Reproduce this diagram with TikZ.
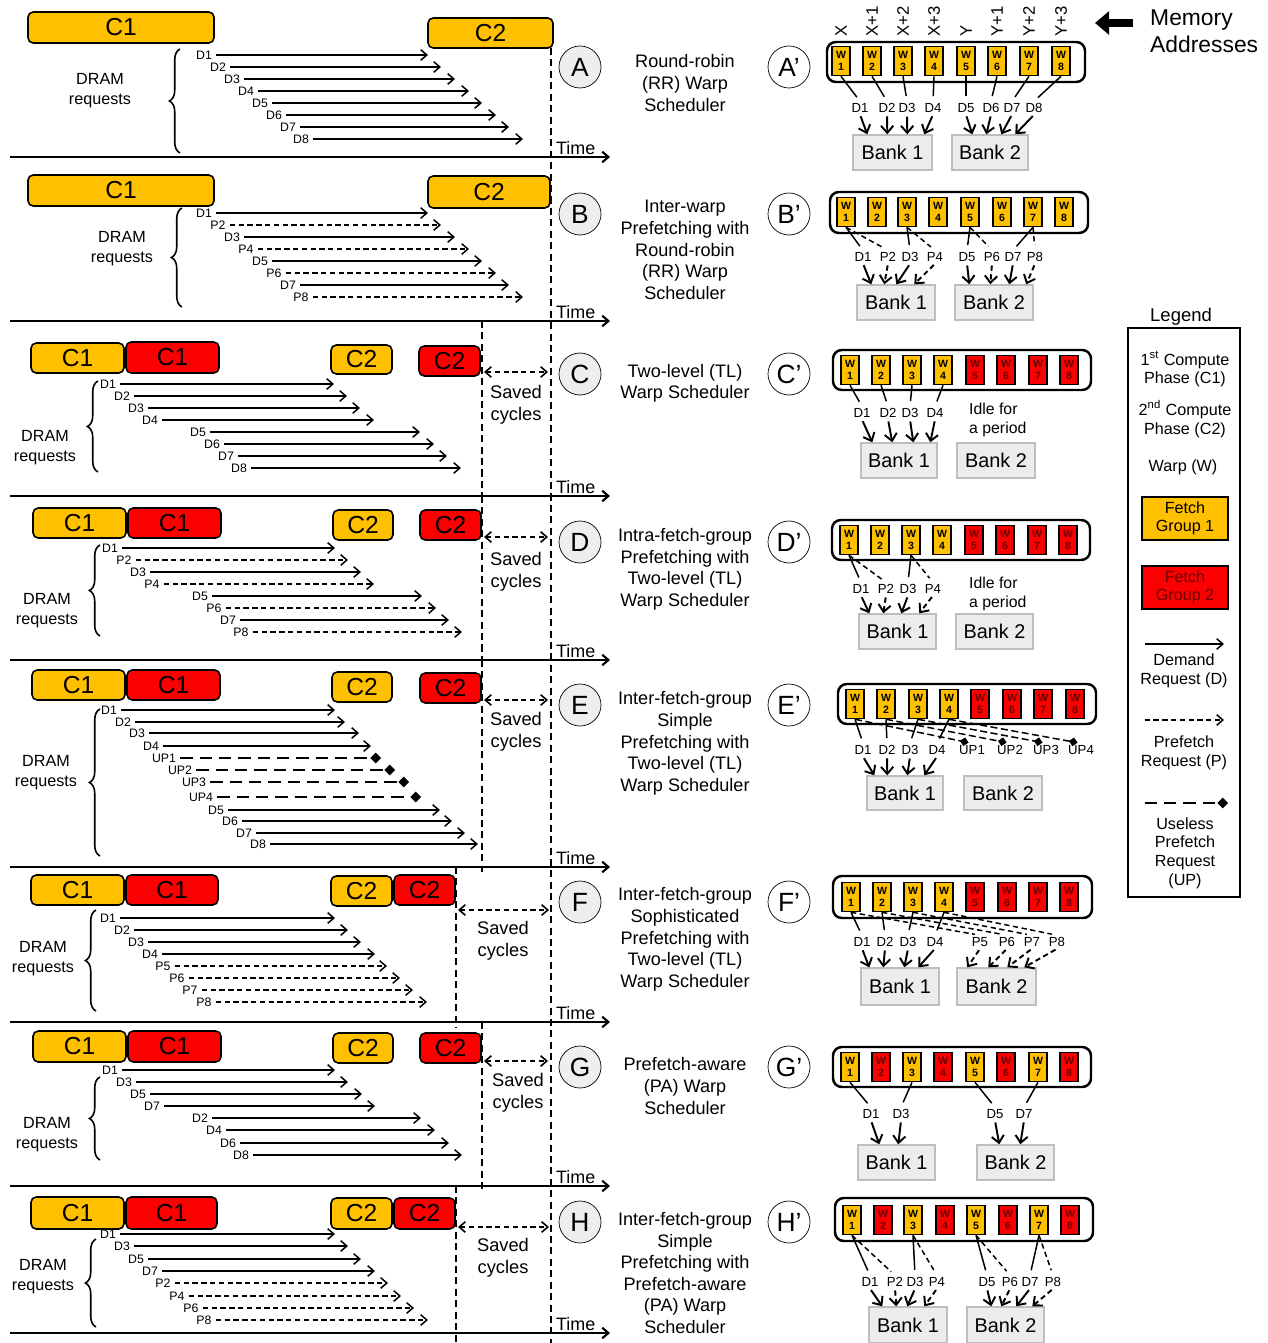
\documentclass[tikz,border=0pt]{standalone}
\usepackage{fontspec}
\setmainfont{Liberation Sans}
\usetikzlibrary{arrows.meta,calc,fit,decorations.pathreplacing,positioning}

\definecolor{fgone}{RGB}{255,192,0}
\definecolor{fgtwo}{RGB}{250,0,0}
\definecolor{fgtwotxt}{RGB}{105,0,0}
\definecolor{bankfill}{RGB}{236,236,236}
\definecolor{bankline}{RGB}{190,190,190}
\definecolor{tagfill}{RGB}{238,238,238}
\newcommand{\setfs}[2]{\fontsize{#1}{#2}\selectfont}
\newcommand{\boxnode}[7]{%
  \pgfmathsetmacro{\boxw}{(#5-#3)*0.02}%
  \pgfmathsetmacro{\boxh}{(#6-#4)*0.02}%
  \node[#1, minimum width=\boxw cm, minimum height=\boxh cm] (#2) at ({(#3+#5)/2},{(#4+#6)/2}) {#7};}

\begin{document}
\begin{tikzpicture}[x=0.2mm, y=-0.2mm,
    >={Straight Barb[length=3.5pt,width=6pt]},
    phase/.style={draw, line width=0.9pt, rounded corners=3pt, inner sep=0pt, font=\setfs{14}{14}},
    phone/.style={phase, fill=fgone},
    phtwo/.style={phase, fill=fgtwo},
    reqlbl/.style={inner sep=0.8pt, font=\setfs{7}{8}},
    dreq/.style={->, line width=0.85pt, shorten <=1.5pt},
    preq/.style={dreq, dash pattern=on 3pt off 2pt},
    upreq/.style={-{Diamond[length=6pt,width=6pt]}, line width=0.85pt, shorten <=1.5pt, dash pattern=on 7pt off 4pt},
    timeaxis/.style={->, line width=1.2pt},
    timelbl/.style={anchor=south west, inner sep=1pt, font=\setfs{10.2}{12}},
    vline/.style={line width=0.9pt, dash pattern=on 4pt off 2.5pt},
    savedarr/.style={<->, line width=0.9pt, dash pattern=on 3pt off 2pt},
    savedtxt/.style={align=center, font=\setfs{10.4}{12.5}},
    dramtxt/.style={align=center, font=\setfs{9.2}{11.3}},
    reqbrace/.style={decorate, decoration={brace, amplitude=6pt}, line width=0.9pt},
    tag/.style={draw, circle, fill=tagfill, minimum size=0.84cm, inner sep=0pt, font=\setfs{15}{15}},
    tagp/.style={tag, fill=white},
    scen/.style={align=center, font=\setfs{10.3}{12.3}},
    wrow/.style={draw, line width=1.4pt, rounded corners=5pt, inner sep=0pt},
    warp/.style={draw, line width=0.9pt, fill=fgone, minimum width=0.36cm, minimum height=0.58cm, inner sep=0pt, align=center, font=\setfs{6}{6.5}\bfseries},
    warpr/.style={warp, fill=fgtwo, text=fgtwotxt},
    addr/.style={rotate=90, anchor=west, inner sep=0pt, font=\setfs{9.5}{10}},
    rlbl/.style={inner sep=1pt, font=\setfs{7.5}{8}},
    wline/.style={line width=0.85pt, shorten >=3pt},
    wpline/.style={wline, dash pattern=on 3pt off 2pt},
    wupline/.style={line width=0.85pt, shorten >=2pt, dash pattern=on 4pt off 2pt, -{Diamond[length=5pt,width=5pt]}},
    barr/.style={-{Straight Barb[length=4pt,width=7pt]}, line width=1.1pt, shorten <=1pt},
    bparr/.style={barr, dash pattern=on 3pt off 2pt},
    bank/.style={draw=bankline, line width=0.8pt, fill=bankfill, inner sep=0pt, font=\setfs{11.3}{12}},
    idle/.style={anchor=west, align=left, font=\setfs{9}{11}},
    legtxt/.style={align=center, font=\setfs{9.2}{10.6}},
    fgbox/.style={draw, line width=1pt, inner sep=0pt, align=center, font=\setfs{9.2}{10.6}}
]
\useasboundingbox (0,0) rectangle (1267,1343);
\fill[white] (0,0) rectangle (1267,1343);

% time axes and the long dashed line
\foreach \y [count=\i] in {157,321,496,660,867,1022,1186,1333}{
  \coordinate (tl\i) at (10,\y);
  \coordinate (tr\i) at (610,\y);
  \draw[timeaxis] (tl\i) -- (tr\i);
  \node[timelbl] (tt\i) at (554,\y) {Time};
}
\draw[vline] (551,48) -- (551,1343);

% A
\boxnode{phone}{ac1}{28}{12}{214}{43}{C1}
\boxnode{phone}{ac2}{428}{18}{553}{48}{C2}
\node[dramtxt] (adram) at (100,91) {DRAM\\requests};
\draw[reqbrace] (180,153) -- (180,49);
\foreach \t/\s/\x/\y/\e [count=\n] in {D1/dreq/204/55/428, D2/dreq/218/67/441, D3/dreq/232/79/455, D4/dreq/246/91/469, D5/dreq/260/103/482, D6/dreq/274/115/496, D7/dreq/288/127/509, D8/dreq/301/139/523}{
  \node[reqlbl] (ar\n) at (\x,\y) {\t};
  \draw[\s] (ar\n.east) -- (\e,\y);
}

% B
\boxnode{phone}{bc1}{28}{175}{214}{206}{C1}
\boxnode{phone}{bc2}{428}{176}{550}{208}{C2}
\node[dramtxt] (bdram) at (122,249) {DRAM\\requests};
\draw[reqbrace] (182,307) -- (182,208);
\foreach \t/\s/\x/\y/\e [count=\n] in {D1/dreq/204/213/428, P2/preq/218/225/441, D3/dreq/232/237/455, P4/preq/246/249/469, D5/dreq/260/261/482, P6/preq/274/273/496, D7/dreq/288/285/509, P8/preq/301/297/523}{
  \node[reqlbl] (br\n) at (\x,\y) {\t};
  \draw[\s] (br\n.east) -- (\e,\y);
}

% C
\boxnode{phone}{cc1}{31}{343}{124}{373}{C1}
\boxnode{phtwo}{cc2}{126}{342}{219}{373}{C1}
\boxnode{phone}{cc3}{331}{345}{392}{374}{C2}
\boxnode{phtwo}{cc4}{419}{346}{480}{376}{C2}
\draw[vline] (482,321) -- (482,502);
\draw[savedarr] (484,372) -- (548,372);
\node[savedtxt] (csave) at (516,405) {Saved\\cycles};
\node[dramtxt] (cdram) at (45,448) {DRAM\\requests};
\draw[reqbrace] (98,472) -- (98,381);
\foreach \t/\s/\x/\y/\e [count=\n] in {D1/dreq/108/384/334, D2/dreq/122/396/347, D3/dreq/136/408/360, D4/dreq/150/420/374, D5/dreq/198/432/420, D6/dreq/212/444/434, D7/dreq/226/456/447, D8/dreq/239/468/461}{
  \node[reqlbl] (cr\n) at (\x,\y) {\t};
  \draw[\s] (cr\n.east) -- (\e,\y);
}

% D
\boxnode{phone}{dc1}{33}{508}{126}{538}{C1}
\boxnode{phtwo}{dc2}{128}{508}{221}{538}{C1}
\boxnode{phone}{dc3}{333}{510}{393}{540}{C2}
\boxnode{phtwo}{dc4}{420}{510}{481}{540}{C2}
\draw[vline] (482,496) -- (482,665);
\draw[savedarr] (484,537) -- (548,537);
\node[savedtxt] (dsave) at (516,572) {Saved\\cycles};
\node[dramtxt] (ddram) at (47,611) {DRAM\\requests};
\draw[reqbrace] (100,636) -- (100,545);
\foreach \t/\s/\x/\y/\e [count=\n] in {D1/dreq/110/548/335, P2/preq/124/560/348, D3/dreq/138/572/361, P4/preq/152/584/374, D5/dreq/200/596/422, P6/preq/214/608/436, D7/dreq/228/620/449, P8/preq/241/632/462}{
  \node[reqlbl] (dr\n) at (\x,\y) {\t};
  \draw[\s] (dr\n.east) -- (\e,\y);
}

% E
\boxnode{phone}{ec1}{32}{670}{125}{700}{C1}
\boxnode{phtwo}{ec2}{127}{670}{220}{700}{C1}
\boxnode{phone}{ec3}{332}{672}{392}{702}{C2}
\boxnode{phtwo}{ec4}{420}{673}{481}{703}{C2}
\draw[vline] (482,660) -- (482,872);
\draw[savedarr] (484,700) -- (548,700);
\node[savedtxt] (esave) at (516,732) {Saved\\cycles};
\node[dramtxt] (edram) at (46,773) {DRAM\\requests};
\draw[reqbrace] (100,856) -- (100,709);
\foreach \t/\s/\x/\y/\e [count=\n] in {D1/dreq/109/710/335, D2/dreq/123/722/345, D3/dreq/137/733/359, D4/dreq/151/746/371, UP1/upreq/164/758/381, UP2/upreq/180/770/395, UP3/upreq/194/782/409, UP4/upreq/201/797/421, D5/dreq/216/810/440, D6/dreq/230/821/452, D7/dreq/244/833/465, D8/dreq/258/844/478}{
  \node[reqlbl] (er\n) at (\x,\y) {\t};
  \draw[\s] (er\n.east) -- (\e,\y);
}

% F
\boxnode{phone}{fc1}{31}{875}{124}{905}{C1}
\boxnode{phtwo}{fc2}{126}{875}{218}{905}{C1}
\boxnode{phone}{fc3}{331}{876}{392}{906}{C2}
\boxnode{phtwo}{fc4}{394}{875}{455}{905}{C2}
\draw[vline] (456,867) -- (456,1028);
\draw[savedarr] (458,910) -- (549,910);
\node[savedtxt] (fsave) at (503,941) {Saved\\cycles};
\node[dramtxt] (fdram) at (43,959) {DRAM\\requests};
\draw[reqbrace] (96,1011) -- (96,910);
\foreach \t/\s/\x/\y/\e [count=\n] in {D1/dreq/108/918/335, D2/dreq/122/930/348, D3/dreq/136/942/361, D4/dreq/150/954/375, P5/preq/163/966/387, P6/preq/177/978/400, P7/preq/190/990/413, P8/preq/204/1002/427}{
  \node[reqlbl] (fr\n) at (\x,\y) {\t};
  \draw[\s] (fr\n.east) -- (\e,\y);
}

% G
\boxnode{phone}{gc1}{33}{1031}{126}{1062}{C1}
\boxnode{phtwo}{gc2}{128}{1031}{221}{1062}{C1}
\boxnode{phone}{gc3}{333}{1033}{393}{1063}{C2}
\boxnode{phtwo}{gc4}{420}{1033}{481}{1063}{C2}
\draw[vline] (482,1022) -- (482,1192);
\draw[savedarr] (484,1061) -- (548,1061);
\node[savedtxt] (gsave) at (518,1093) {Saved\\cycles};
\node[dramtxt] (gdram) at (47,1135) {DRAM\\requests};
\draw[reqbrace] (100,1160) -- (100,1077);
\foreach \t/\s/\x/\y/\e [count=\n] in {D1/dreq/110/1070/335, D3/dreq/124/1082/348, D5/dreq/138/1094/362, D7/dreq/152/1106/375, D2/dreq/200/1118/421, D4/dreq/214/1130/435, D6/dreq/228/1143/449, D8/dreq/241/1155/462}{
  \node[reqlbl] (gr\n) at (\x,\y) {\t};
  \draw[\s] (gr\n.east) -- (\e,\y);
}

% H
\boxnode{phone}{hc1}{31}{1197}{124}{1229}{C1}
\boxnode{phtwo}{hc2}{126}{1197}{217}{1229}{C1}
\boxnode{phone}{hc3}{331}{1198}{392}{1229}{C2}
\boxnode{phtwo}{hc4}{394}{1198}{455}{1229}{C2}
\draw[vline] (456,1186) -- (456,1343);
\draw[savedarr] (458,1227) -- (549,1227);
\node[savedtxt] (hsave) at (503,1258) {Saved\\cycles};
\node[dramtxt] (hdram) at (43,1277) {DRAM\\requests};
\draw[reqbrace] (96,1327) -- (96,1239);
\foreach \t/\s/\x/\y/\e [count=\n] in {D1/dreq/108/1234/335, D3/dreq/122/1246/348, D5/dreq/136/1259/361, D7/dreq/150/1271/375, P2/preq/163/1283/388, P4/preq/177/1296/401, P6/preq/191/1308/414, P8/preq/204/1320/428}{
  \node[reqlbl] (hr\n) at (\x,\y) {\t};
  \draw[\s] (hr\n.east) -- (\e,\y);
}

% circles and scheduler names
\foreach \l/\y in {A/67,B/214,C/374,D/542,E/705,F/902,G/1067,H/1222}{
  \node[tag] (t\l) at (580,\y) {\l};
  \node[tagp] (t\l p) at (789,\y) {\l'};
}
\node[scen] (sa) at (685,83) {Round-robin\\(RR) Warp\\Scheduler};
\node[scen] (sb) at (685,250) {Inter-warp\\Prefetching with\\Round-robin\\(RR) Warp\\Scheduler};
\node[scen] (sc) at (685,383.5) {Two-level (TL)\\Warp Scheduler};
\node[scen] (sd) at (685,569.5) {Intra-fetch-group\\Prefetching with\\Two-level (TL)\\Warp Scheduler};
\node[scen] (se) at (685,743.5) {Inter-fetch-group\\Simple\\Prefetching with\\Two-level (TL)\\Warp Scheduler};
\node[scen] (sf) at (685,939.5) {Inter-fetch-group\\Sophisticated\\Prefetching with\\Two-level (TL)\\Warp Scheduler};
\node[scen] (sg) at (685,1086) {Prefetch-aware\\(PA) Warp\\Scheduler};
\node[scen] (sh) at (685,1273) {Inter-fetch-group\\Simple\\Prefetching with\\Prefetch-aware\\(PA) Warp\\Scheduler};

% A'
\node[wrow, fit={(827,42) (1085,82)}] (rowa) {};
\foreach \x [count=\i] in {841,872,903,934,966,997,1029,1061}
  \node[warp] (wa\i) at (\x,61) {W\\\i};
\foreach \t [count=\i] in {X,X+1,X+2,X+3,Y,Y+1,Y+2,Y+3}
  \node[addr] (adr\i) at ($(wa\i)+(0,-24)$) {\t};
\foreach \t/\x [count=\i] in {D1/860,D2/887,D3/907,D4/933,D5/966,D6/991,D7/1012,D8/1034}{
  \node[rlbl] (la\i) at (\x,108) {\t};
  \draw[wline] (wa\i.south) -- (la\i.north);
}
\boxnode{bank}{bka1}{853}{135}{932}{170}{Bank 1}
\boxnode{bank}{bka2}{952}{135}{1028}{170}{Bank 2}
\foreach \i/\b/\d in {1/bka1/15,2/bka1/35,3/bka1/55,4/bka1/72,5/bka2/21,6/bka2/35,7/bka2/50,8/bka2/64}
  \draw[barr] (la\i.south) -- ($(\b.north west)+(\d,0)$);

% B'
\node[wrow, fit={(830,192) (1088,233)}] (rowb) {};
\foreach \x [count=\i] in {846,877,907,938,970,1002,1033,1064}
  \node[warp] (wb\i) at (\x,212) {W\\\i};
\foreach \t/\x [count=\i] in {D1/863,P2/888,D3/910,P4/935,D5/967,P6/992,D7/1013,P8/1035}
  \node[rlbl] (lb\i) at (\x,257) {\t};
\foreach \w/\a/\s in {1/1/wline,1/2/wpline,3/3/wline,3/4/wpline,5/5/wline,5/6/wpline,7/7/wline,7/8/wpline}
  \draw[\s] (wb\w.south) -- (lb\a.north);
\boxnode{bank}{bkb1}{857}{285}{935}{320}{Bank 1}
\boxnode{bank}{bkb2}{955}{285}{1033}{320}{Bank 2}
\foreach \i/\b/\d/\s in {1/bkb1/15/barr,2/bkb1/28/bparr,3/bkb1/40/barr,4/bkb1/58/bparr,5/bkb2/15/barr,6/bkb2/36/bparr,7/bkb2/55/barr,8/bkb2/72/bparr}
  \draw[\s] (lb\i.south) -- ($(\b.north west)+(\d,0)$);

% C'
\node[wrow, fit={(833,350) (1091,390)}] (rowc) {};
\foreach \x/\s [count=\i] in {850/warp,881/warp,912/warp,943/warp,975/warpr,1006/warpr,1038/warpr,1069/warpr}
  \node[\s] (wc\i) at (\x,370) {W\\\i};
\foreach \t/\x [count=\i] in {D1/862,D2/888,D3/910,D4/935}{
  \node[rlbl] (lc\i) at (\x,413) {\t};
  \draw[wline] (wc\i.south) -- (lc\i.north);
}
\node[idle] (idlec) at (963,420) {Idle for\\a period};
\boxnode{bank}{bkc1}{861}{443}{937}{478}{Bank 1}
\boxnode{bank}{bkc2}{957}{443}{1035}{478}{Bank 2}
\foreach \i/\d in {1/12,2/32,3/53,4/70}
  \draw[barr] (lc\i.south) -- ($(bkc1.north west)+(\d,0)$);

% D'
\node[wrow, fit={(832,520) (1090,560)}] (rowd) {};
\foreach \x/\s [count=\i] in {849/warp,880/warp,911/warp,942/warp,974/warpr,1005/warpr,1037/warpr,1068/warpr}
  \node[\s] (wd\i) at (\x,540) {W\\\i};
\foreach \t/\x [count=\i] in {D1/861,P2/886,D3/908,P4/933}
  \node[rlbl] (ld\i) at (\x,589) {\t};
\foreach \w/\a/\s in {1/1/wline,1/2/wpline,3/3/wline,3/4/wpline}
  \draw[\s] (wd\w.south) -- (ld\a.north);
\node[idle] (idled) at (963,594) {Idle for\\a period};
\boxnode{bank}{bkd1}{859}{614}{936}{649}{Bank 1}
\boxnode{bank}{bkd2}{956}{614}{1033}{649}{Bank 2}
\foreach \i/\d/\s in {1/11/barr,2/25/bparr,3/43/barr,4/61/bparr}
  \draw[\s] (ld\i.south) -- ($(bkd1.north west)+(\d,0)$);

% E'
\node[wrow, fit={(838,684) (1096,724)}] (rowe) {};
\foreach \x/\s [count=\i] in {855/warp,886/warp,918/warp,949/warp,980/warpr,1012/warpr,1043/warpr,1075/warpr}
  \node[\s] (we\i) at (\x,704) {W\\\i};
\foreach \t/\x [count=\i] in {D1/863,D2/887,D3/910,D4/937,UP1/972,UP2/1010,UP3/1046,UP4/1081}
  \node[rlbl] (le\i) at (\x,750) {\t};
\foreach \w/\a/\s in {1/1/wline,2/2/wline,3/3/wline,4/4/wline,1/5/wupline,2/6/wupline,3/7/wupline,4/8/wupline}
  \draw[\s] (we\w.south) -- (le\a.north);
\boxnode{bank}{bke1}{867}{776}{943}{810}{Bank 1}
\boxnode{bank}{bke2}{964}{776}{1042}{810}{Bank 2}
\foreach \i/\d in {1/8,2/21,3/41,4/58}
  \draw[barr] (le\i.south) -- ($(bke1.north west)+(\d,0)$);

% F'
\node[wrow, fit={(833,876) (1092,918)}] (rowf) {};
\foreach \x/\s [count=\i] in {851/warp,882/warp,913/warp,944/warp,975/warpr,1007/warpr,1038/warpr,1069/warpr}
  \node[\s] (wf\i) at (\x,897) {W\\\i};
\foreach \t/\x [count=\i] in {D1/862,D2/885,D3/908,D4/935,P5/980,P6/1007,P7/1032,P8/1057}
  \node[rlbl] (lf\i) at (\x,942) {\t};
\foreach \w/\a/\s in {1/1/wline,2/2/wline,3/3/wline,4/4/wline,1/5/wpline,2/6/wpline,3/7/wpline,4/8/wpline}
  \draw[\s] (wf\w.south) -- (lf\a.north);
\boxnode{bank}{bkf1}{861}{968}{939}{1005}{Bank 1}
\boxnode{bank}{bkf2}{957}{968}{1036}{1005}{Bank 2}
\foreach \i/\b/\d/\s in {1/bkf1/9/barr,2/bkf1/23/barr,3/bkf1/44/barr,4/bkf1/58/barr,5/bkf2/11/bparr,6/bkf2/32/bparr,7/bkf2/51/bparr,8/bkf2/68/bparr}
  \draw[\s] (lf\i.south) -- ($(\b.north west)+(\d,0)$);

% G'
\node[wrow, fit={(833,1047) (1091,1087)}] (rowg) {};
\foreach \x/\s [count=\i] in {850/warp,881/warpr,912/warp,943/warpr,975/warp,1006/warpr,1038/warp,1069/warpr}
  \node[\s] (wg\i) at (\x,1067) {W\\\i};
\foreach \t/\x/\w [count=\i] in {D1/871/1,D3/901/3,D5/995/5,D7/1024/7}{
  \node[rlbl] (lg\i) at (\x,1114) {\t};
  \draw[wline] (wg\w.south) -- (lg\i.north);
}
\boxnode{bank}{bkg1}{858}{1145}{935}{1180}{Bank 1}
\boxnode{bank}{bkg2}{977}{1145}{1054}{1180}{Bank 2}
\foreach \i/\b/\d in {1/bkg1/22,2/bkg1/41,3/bkg2/23,4/bkg2/44}
  \draw[barr] (lg\i.south) -- ($(\b.north west)+(\d,0)$);

% H'
\node[wrow, fit={(835,1198) (1093,1241)}] (rowh) {};
\foreach \x/\s [count=\i] in {852/warp,883/warpr,913/warp,945/warpr,976/warp,1008/warpr,1039/warp,1070/warpr}
  \node[\s] (wh\i) at (\x,1220) {W\\\i};
\foreach \t/\x [count=\i] in {D1/870,P2/895,D3/915,P4/937,D5/987,P6/1010,D7/1030,P8/1053}
  \node[rlbl] (lh\i) at (\x,1282) {\t};
\foreach \w/\a/\s in {1/1/wline,1/2/wpline,3/3/wline,3/4/wpline,5/5/wline,5/6/wpline,7/7/wline,7/8/wpline}
  \draw[\s] (wh\w.south) -- (lh\a.north);
\boxnode{bank}{bkh1}{869}{1307}{947}{1343}{Bank 1}
\boxnode{bank}{bkh2}{967}{1307}{1044}{1343}{Bank 2}
\foreach \i/\b/\d/\s in {1/bkh1/14/barr,2/bkh1/28/bparr,3/bkh1/39/barr,4/bkh1/56/bparr,5/bkh2/25/barr,6/bkh2/35/bparr,7/bkh2/50/barr,8/bkh2/66/bparr}
  \draw[\s] (lh\i.south) -- ($(\b.north west)+(\d,0)$);

% memory addresses
\node[anchor=west, align=left, font=\setfs{13}{15.5}] (memaddr) at (1144,31) {Memory\\Addresses};
\coordinate (maa0) at (1133,23);
\coordinate (maa1) at (1095,23);
\draw[line width=5pt, -{Triangle[length=8pt,width=13pt]}] (maa0) -- (maa1);

% legend
\node[font=\setfs{10.5}{12}] (leghead) at (1181,317) {Legend};
\node[draw, line width=1.4pt, inner sep=0pt, fit={(1128,328) (1240,897)}] (legbox) {};
\node[legtxt] (lgc1) at (1185,369) {1\textsuperscript{st} Compute\\Phase (C1)};
\node[legtxt] (lgc2) at (1185,419) {2\textsuperscript{nd} Compute\\Phase (C2)};
\node[legtxt] (lgw) at (1183,467) {Warp (W)};
\boxnode{fgbox, fill=fgone}{lgf1}{1142}{497}{1228}{540}{Fetch\\Group 1}
\boxnode{fgbox, fill=fgtwo, text=fgtwotxt}{lgf2}{1142}{566}{1228}{609}{Fetch\\Group 2}
\coordinate (lgd0) at (1142,644);
\coordinate (lgd1) at (1224,644);
\draw[dreq] (lgd0) -- (lgd1);
\node[legtxt] (lgd) at (1184,671) {Demand\\Request (D)};
\coordinate (lgp0) at (1142,720);
\coordinate (lgp1) at (1224,720);
\draw[preq] (lgp0) -- (lgp1);
\node[legtxt] (lgp) at (1184,753) {Prefetch\\Request (P)};
\coordinate (lgu0) at (1142,803);
\coordinate (lgu1) at (1228,803);
\draw[upreq] (lgu0) -- (lgu1);
\node[legtxt] (lgu) at (1185,853) {Useless\\Prefetch\\Request\\(UP)};
\end{tikzpicture}
\end{document}
